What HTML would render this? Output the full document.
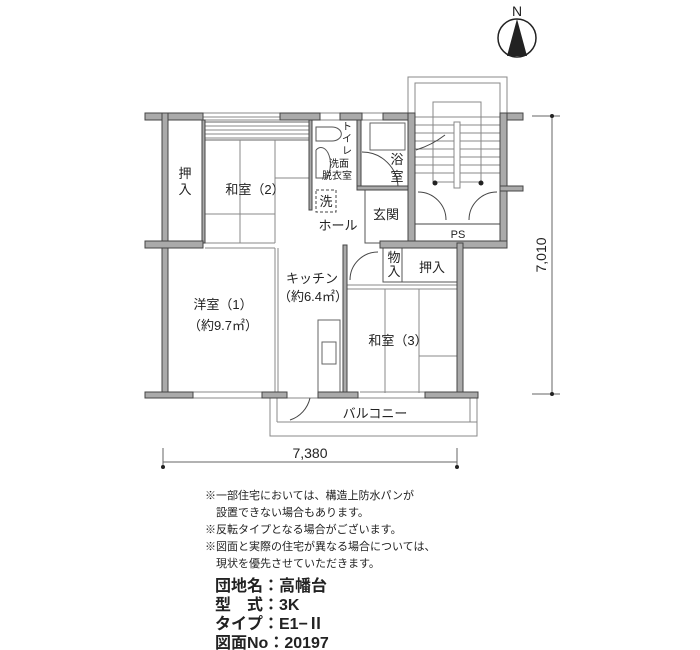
<!DOCTYPE html>
<html><head><meta charset="utf-8"><style>
html,body{margin:0;padding:0;background:#fff;}
svg{display:block;}
text{font-family:"Liberation Sans","Noto Sans CJK JP",sans-serif;fill:#222;}
</style></head><body>
<svg width="700" height="650" viewBox="0 0 700 650" xmlns="http://www.w3.org/2000/svg">
<!-- north -->
<circle cx="517" cy="38" r="19" fill="none" stroke="#222" stroke-width="1.5"/>
<polygon points="517,19 507,56 527,56" fill="#222"/>
<text x="517" y="16" font-size="14" text-anchor="middle">N</text>

<g stroke="#888" stroke-width="1" fill="none">
<rect x="408" y="77" width="99" height="40"/>
<rect x="415" y="83" width="85" height="34"/>
<rect x="433" y="102" width="48" height="80"/>
<line x1="415" y1="125" x2="500" y2="125"/><line x1="415" y1="133" x2="500" y2="133"/>
<line x1="415" y1="141" x2="500" y2="141"/><line x1="415" y1="149" x2="500" y2="149"/>
<line x1="415" y1="157" x2="500" y2="157"/><line x1="415" y1="165" x2="500" y2="165"/>
<line x1="415" y1="173" x2="500" y2="173"/>
<rect x="454" y="122" width="6" height="66" fill="#fff"/>
<path d="M416 150 Q432 145 445 135" stroke="#444"/>
<path d="M418 192 A28 28 0 0 1 446 220" stroke="#444"/>
<path d="M497 192 A28 28 0 0 0 469 220" stroke="#444"/>
<line x1="415" y1="224" x2="500" y2="224" stroke="#444"/>
<line x1="203" y1="113" x2="280" y2="113"/><line x1="203" y1="120" x2="280" y2="120"/><line x1="203" y1="117" x2="280" y2="117"/>
<line x1="320" y1="113" x2="340" y2="113"/><line x1="320" y1="120" x2="340" y2="120"/>
<line x1="362" y1="113" x2="383" y2="113"/><line x1="362" y1="120" x2="383" y2="120"/>
<rect x="205" y="122" width="105" height="18" stroke="#666"/>
<line x1="205" y1="126" x2="310" y2="126"/><line x1="205" y1="130" x2="310" y2="130"/><line x1="205" y1="134" x2="310" y2="134"/><line x1="205" y1="138" x2="310" y2="138"/>
<line x1="240" y1="140" x2="240" y2="243"/><line x1="275" y1="140" x2="275" y2="243"/>
<line x1="275" y1="178" x2="310" y2="178"/><line x1="205" y1="214" x2="275" y2="214"/>
<line x1="345" y1="289" x2="457" y2="289"/><line x1="385" y1="289" x2="385" y2="393"/>
<line x1="419" y1="289" x2="419" y2="393"/><line x1="419" y1="356" x2="457" y2="356"/>
<line x1="345" y1="285" x2="457" y2="285"/>
<rect x="318" y="320" width="22" height="72" stroke="#666"/>
<rect x="322" y="342" width="14" height="22" stroke="#666"/>
<path d="M316 127 h16 a8 6 0 0 1 0 14 h-16 z" stroke="#555"/>
<path d="M316 150 v28 h10 a8 14 0 0 0 -10 -28" stroke="#555"/>
<rect x="316" y="190" width="20" height="22" stroke="#444" stroke-dasharray="3,2"/>
<rect x="370" y="123" width="35" height="27" stroke="#666"/>
<path d="M362 152 A36 36 0 0 1 398 188" stroke="#444"/>
<rect x="365" y="190" width="44" height="53" stroke="#555"/>
<path d="M350 280 A28 28 0 0 1 378 252" stroke="#444"/>
<rect x="383" y="248" width="19" height="34" stroke="#555"/>
<rect x="402" y="248" width="55" height="34" stroke="#555"/>
<rect x="270" y="398" width="207" height="38"/>
<line x1="277" y1="422" x2="477" y2="422"/>
<line x1="277" y1="398" x2="277" y2="422"/>
<path d="M290 420 A30 30 0 0 0 310 398" stroke="#444"/>
<line x1="470" y1="398" x2="470" y2="422"/>
<line x1="190" y1="392" x2="265" y2="392"/><line x1="190" y1="398" x2="265" y2="398"/>
<line x1="360" y1="392" x2="425" y2="392"/><line x1="360" y1="398" x2="425" y2="398"/>
<line x1="275" y1="248" x2="275" y2="392"/><line x1="278" y1="248" x2="278" y2="392"/>
<line x1="205" y1="243" x2="275" y2="243"/><line x1="205" y1="248" x2="275" y2="248"/>
</g>

<g fill="#aaa" stroke="#444" stroke-width="1">
<rect x="145" y="113" width="58" height="7"/>
<rect x="280" y="113" width="40" height="7"/>
<rect x="340" y="113" width="22" height="7"/>
<rect x="383" y="113" width="32" height="7"/>
<rect x="500" y="113" width="23" height="7"/>
<rect x="162" y="113" width="6" height="280"/>
<rect x="202" y="120" width="3" height="123"/>
<rect x="309" y="120" width="3" height="90"/>
<rect x="357" y="120" width="4" height="70"/>
<rect x="357" y="186" width="53" height="4"/>
<rect x="408" y="113" width="7" height="130"/>
<rect x="500" y="113" width="7" height="130"/>
<rect x="500" y="186" width="23" height="5"/>
<rect x="145" y="241" width="58" height="7"/>
<rect x="380" y="241" width="127" height="7"/>
<rect x="343" y="245" width="4" height="147"/>
<rect x="457" y="243" width="6" height="150"/>
<rect x="145" y="392" width="48" height="6"/>
<rect x="262" y="392" width="25" height="6"/>
<rect x="318" y="392" width="40" height="6"/>
<rect x="425" y="392" width="53" height="6"/>
</g>

<g stroke="#666" stroke-width="1">
<line x1="163" y1="462" x2="457" y2="462"/>
<line x1="163" y1="448" x2="163" y2="468"/><line x1="457" y1="448" x2="457" y2="468"/>
<line x1="552" y1="116" x2="552" y2="394"/>
<line x1="532" y1="116" x2="560" y2="116"/><line x1="532" y1="394" x2="560" y2="394"/>
</g>
<g fill="#222"><circle cx="163" cy="467" r="2"/><circle cx="457" cy="467" r="2"/><circle cx="552" cy="116" r="2"/><circle cx="552" cy="394" r="2"/>
<circle cx="435" cy="183" r="2.5"/><circle cx="481" cy="183" r="2.5"/></g>
<text x="310" y="458" font-size="14" text-anchor="middle">7,380</text>
<text x="0" y="0" font-size="14" text-anchor="middle" transform="translate(546,255) rotate(-90)">7,010</text>

<g font-size="13">
<text x="185" y="178" text-anchor="middle">押</text><text x="185" y="194" text-anchor="middle">入</text>
<text x="255" y="194" text-anchor="middle">和室（2）</text>
<text x="329" y="167" font-size="10">洗面</text><text x="322" y="179" font-size="10">脱衣室</text>
<text x="326" y="206" text-anchor="middle">洗</text>
<text x="338" y="230" text-anchor="middle">ホール</text>
<text x="347" y="130" font-size="10" text-anchor="middle">ト</text>
<text x="347" y="142" font-size="10" text-anchor="middle">イ</text>
<text x="347" y="154" font-size="10" text-anchor="middle">レ</text>
<text x="397" y="164" text-anchor="middle">浴</text><text x="397" y="181" text-anchor="middle">室</text>
<text x="386" y="219" text-anchor="middle">玄関</text>
<text x="458" y="238" font-size="11" text-anchor="middle">PS</text>
<text x="394" y="262" text-anchor="middle">物</text><text x="394" y="276" text-anchor="middle">入</text>
<text x="432" y="272" text-anchor="middle">押入</text>
<text x="312" y="283" text-anchor="middle">キッチン</text>
<text x="313" y="301" text-anchor="middle">（約6.4㎡）</text>
<text x="223" y="309" text-anchor="middle">洋室（1）</text>
<text x="223" y="330" text-anchor="middle">（約9.7㎡）</text>
<text x="398" y="345" text-anchor="middle">和室（3）</text>
<text x="375" y="418" text-anchor="middle">バルコニー</text>
</g>

<g font-size="11">
<text x="205" y="499">※一部住宅においては、構造上防水パンが</text>
<text x="216" y="516">設置できない場合もあります。</text>
<text x="205" y="533">※反転タイプとなる場合がございます。</text>
<text x="205" y="550">※図面と実際の住宅が異なる場合については、</text>
<text x="216" y="567">現状を優先させていただきます。</text>
</g>
<g font-size="16" font-weight="bold">
<text x="215" y="591">団地名：高幡台</text>
<text x="215" y="610">型　式：3K</text>
<text x="215" y="629">タイプ：E1−Ⅱ</text>
<text x="215" y="648">図面No：20197</text>
</g>
</svg>
</body></html>
